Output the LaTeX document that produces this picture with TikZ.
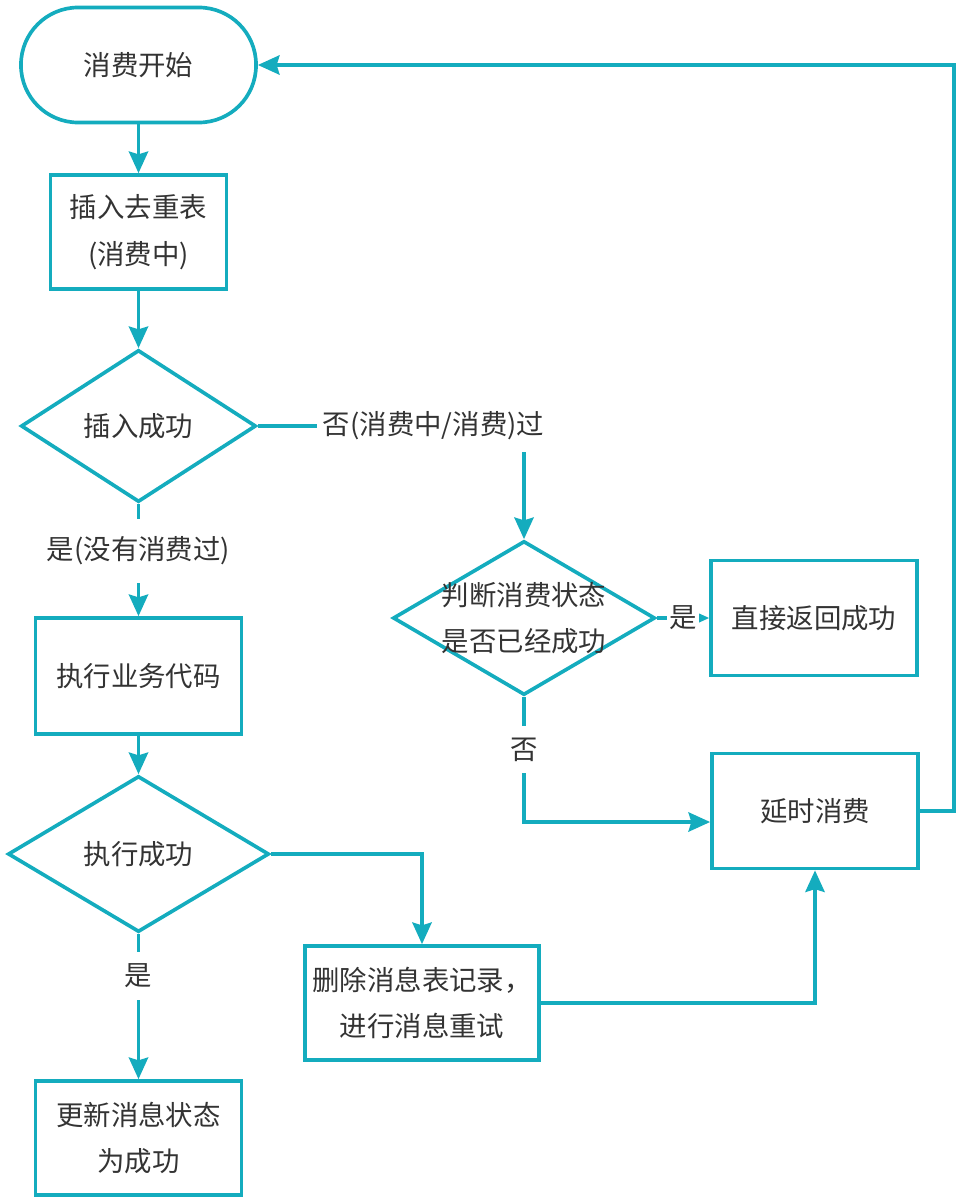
\documentclass[tikz,border=0pt]{standalone}
\usepackage{fontspec}
\newfontfamily\cjk{Noto Sans CJK SC}
\usetikzlibrary{shapes.geometric, arrows.meta, positioning}
\definecolor{flowline}{RGB}{20,172,190}
\definecolor{flowtext}{RGB}{51,51,51}
\tikzset{
>={Stealth[length=5.4mm, width=4.8mm, inset=0.7mm]}, % arrow heads
every node/.style={font=\cjk\fontsize{19.5}{33}\selectfont, text=flowtext},
process/.style={rectangle, draw=flowline, line width=2.6pt, minimum width=5.15cm, minimum height=2.875cm, align=center},
terminal/.style={process, rounded corners=1.43cm, minimum width=5.875cm},
decision/.style={diamond, draw=flowline, line width=2.6pt, inner sep=0pt},
flow/.style={->, draw=flowline, line width=2.6pt},
branch/.style={fill=white, inner xsep=0.15cm, inner ysep=0.3cm}, % label sitting on a connector
}

\begin{document}
\begin{tikzpicture}[x=0.025cm, y=-0.025cm]
        \useasboundingbox (0,0) rectangle (967,1203);

        % left column
        \node[terminal] (start) at (138.5,65) {消费开始};
        \node[process, minimum width=4.4cm, minimum height=2.85cm] (dedup) at (138.5,232) {插入去重表\\(消费中)};
        \node[decision, minimum width=5.875cm, minimum height=3.8cm, label=center:插入成功] (inserted) at (138.5,426) {};
        \node[process, minimum height=2.9cm] (business) at (138.5,676) {执行业务代码};
        \node[decision, minimum width=6.525cm, minimum height=3.9cm, label=center:执行成功] (executed) at (138.5,854) {};
        \node[process, minimum height=2.85cm] (update) at (138.5,1138) {更新消息状态\\为成功};

        % right part
        \node[decision, minimum width=6.55cm, minimum height=3.85cm, label={[align=center]center:判断消费状态\\是否已经成功}] (check) at (524,618) {};
        \node[process] (direct) at (814,618) {直接返回成功};
        \node[process] (delay) at (815,811) {延时消费};
        \node[process, minimum width=5.85cm, minimum height=2.85cm] (retry) at (422,1003) {删除消息表记录，\\进行消息重试};

        \draw[flow] (start) -- (dedup);
        \draw[flow] (dedup) -- (inserted);
        \draw[flow] (inserted) -- node[branch, pos=0.42, inner ysep=0.45cm]{是(没有消费过)} (business);
        \draw[flow] (inserted.east) -| node[branch, pos=0.33]{否(消费中/消费)过} (check.north);
        \draw[flow] (check) -- node[branch, pos=0.5, inner xsep=0.06cm, inner ysep=2pt]{是} (direct);
        \draw[flow] (check.south) |- node[branch, pos=0.21]{否} ([yshift=-0.275cm]delay.west);
        \draw[flow] (delay.east) -- ++(34,0) |- (start.east);
        \draw[flow] (business) -- (executed);
        \draw[flow] (executed.east) -| (retry.north);
        \draw[flow] (executed) -- node[branch, pos=0.29]{是} (update);
        \draw[flow] (retry.east) -| (delay.south);
\end{tikzpicture}
\end{document}
